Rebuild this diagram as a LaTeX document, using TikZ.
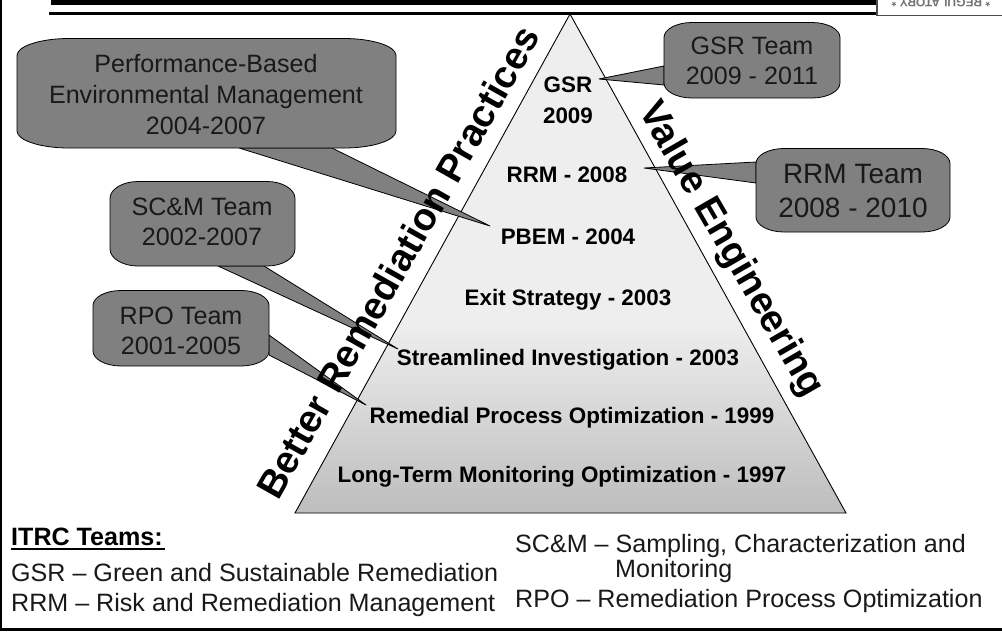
\documentclass[tikz,border=0pt]{standalone}
\usepackage{fontspec}
\setmainfont{Liberation Sans}
\usetikzlibrary{calc}
\definecolor{calloutgray}{HTML}{808080}
\definecolor{pyrtop}{HTML}{EEEEEE}
\definecolor{pyrbot}{HTML}{BDBDBD}
\pgfdeclareverticalshading{pyrshade}{100bp}{color(0bp)=(pyrbot); color(25bp)=(pyrbot); color(44bp)=(pyrtop); color(100bp)=(pyrtop)}
\tikzset{
 x=1pt,y=-1pt,
 callout/.style={draw=black,fill=calloutgray,line width=0.8pt,line join=round},
 calltext/.style={font=\fontsize{#1}{#1}\selectfont,align=center,text=black!90,inner sep=0pt},
 years/.style={font=\fontsize{22.4}{22.4}\selectfont\bfseries,inner sep=0pt,text=black},
 sidetext/.style={font=\fontsize{38.5}{38.5}\selectfont\bfseries,inner sep=0pt,text=black,anchor=base west},
 legendtext/.style={font=\fontsize{25.1}{25.1}\selectfont,inner sep=0pt,anchor=base west,text=black!90},
}
\newcommand{\bubble}[6]{%
 \path[callout] (#1+#5,#2) -- (#3-#5,#2)
  .. controls (#3-#5*0.45,#2) and (#3,#2+#6*0.45) .. (#3,#2+#6) -- (#3,#4-#6)
  .. controls (#3,#4-#6*0.45) and (#3-#5*0.45,#4) .. (#3-#5,#4) -- (#1+#5,#4)
  .. controls (#1+#5*0.45,#4) and (#1,#4-#6*0.45) .. (#1,#4-#6) -- (#1,#2+#6)
  .. controls (#1,#2+#6*0.45) and (#1+#5*0.45,#2) .. (#1+#5,#2) -- cycle;}
\begin{document}
\begin{tikzpicture}
\useasboundingbox (0,0) rectangle (1002,635);
\fill[white] (0,0) rectangle (1002,635);
% slide frame
\fill[black] (0,0) rectangle (2.3,630);
\fill[black] (0,628) rectangle (1002,630.5);
\fill[black] (51,0) rectangle (880,5);
\fill[black] (49,12) rectangle (880,15);
% badge
\draw[black!70,fill=white,line width=1.2pt] (877,-2) rectangle (1004,15.5);
\begin{scope}
\clip (878,0) rectangle (1002,15);
\node[font=\fontsize{12}{12}\selectfont\bfseries,text=black!55,rotate=180,inner sep=0pt] (badge) at (941,2.7) {* REGULATORY *};
\end{scope}
% pyramid
\coordinate (apex) at (570,14);
\coordinate (bl) at (295,513);
\coordinate (br) at (846,513);
\shade[shading=pyrshade] (apex) -- (br) -- (bl) -- cycle;
\draw[black,line width=0.9pt,line join=miter] (apex) -- (br) -- (bl) -- cycle;
% level labels
\node[years,align=center] (gsr) at (568,100) {GSR\\[8.6pt]2009};
\node[years] (rrm) at (567,175) {RRM - 2008};
\node[years] (pbem) at (568,237) {PBEM - 2004};
\node[years] (exit) at (568,300) {Exit Strategy - 2003};
\node[years] (si) at (568,360) {Streamlined Investigation - 2003};
\node[years] (rpo) at (572,418) {Remedial Process Optimization - 1999};
\node[years] (ltm) at (562,477) {Long-Term Monitoring Optimization - 1997};
% callouts
\draw[callout] (239,148) -- (490,226) -- (332,148) -- cycle;
\bubble{17}{38.5}{396}{148}{52}{17}
\fill[calloutgray] (237,145) rectangle (334,147.4);
\draw[callout] (218,266) -- (398,349) -- (264,266) -- cycle;
\bubble{110}{181.5}{295}{266}{28}{17}
\fill[calloutgray] (217,263) rectangle (265,265.4);
\draw[callout] (269,335) -- (366,405) -- (269,355) -- cycle;
\bubble{93}{290.5}{269}{366}{28}{15}
\fill[calloutgray] (266,334) rectangle (268.4,355);
\draw[callout] (664,66) -- (599,79) -- (664,85) -- cycle;
\bubble{664}{22.5}{840}{98}{28}{15}
\fill[calloutgray] (664.6,65.5) rectangle (667,85.5);
\draw[callout] (756,162) -- (644,168) -- (756,183) -- cycle;
\bubble{756}{148.5}{950}{232}{28}{15}
\fill[calloutgray] (756.6,162) rectangle (759,183);
\node[calltext=25.1] (t1) at (206,94.5) {Performance-Based\\[5.5pt]Environmental Management\\[5.5pt]2004-2007};
\node[calltext=25.1] (t2) at (202,222) {SC\&M Team\\[5.5pt]2002-2007};
\node[calltext=25.1] (t3) at (181,331) {RPO Team\\[5.5pt]2001-2005};
\node[calltext=25.1] (t4) at (752,61) {GSR Team\\[5.5pt]2009 - 2011};
\node[calltext=28] (t5) at (853,191) {RRM Team\\[6pt]2008 - 2010};
% side titles
\node[sidetext,rotate=60.5] (better) at (278,502) {Better Remediation Practices};
\node[sidetext,rotate=-60] (value) at (638,110) {Value Engineering};
% legend
\node[font=\fontsize{25.1}{25.1}\selectfont\bfseries,inner sep=0pt,anchor=base west,text=black] (head) at (11,545) {ITRC Teams:};
\draw[black,line width=2pt] (11,548.5) -- (165,548.5);
\node[legendtext] (l1) at (11,581) {GSR -- Green and Sustainable Remediation};
\node[legendtext] (l2) at (11,611) {RRM -- Risk and Remediation Management};
\node[legendtext] (l3) at (515,552) {SC\&M -- Sampling, Characterization and};
\node[legendtext] (l4) at (615,577) {Monitoring};
\node[legendtext] (l5) at (515,607) {RPO -- Remediation Process Optimization};
\end{tikzpicture}
\end{document}
